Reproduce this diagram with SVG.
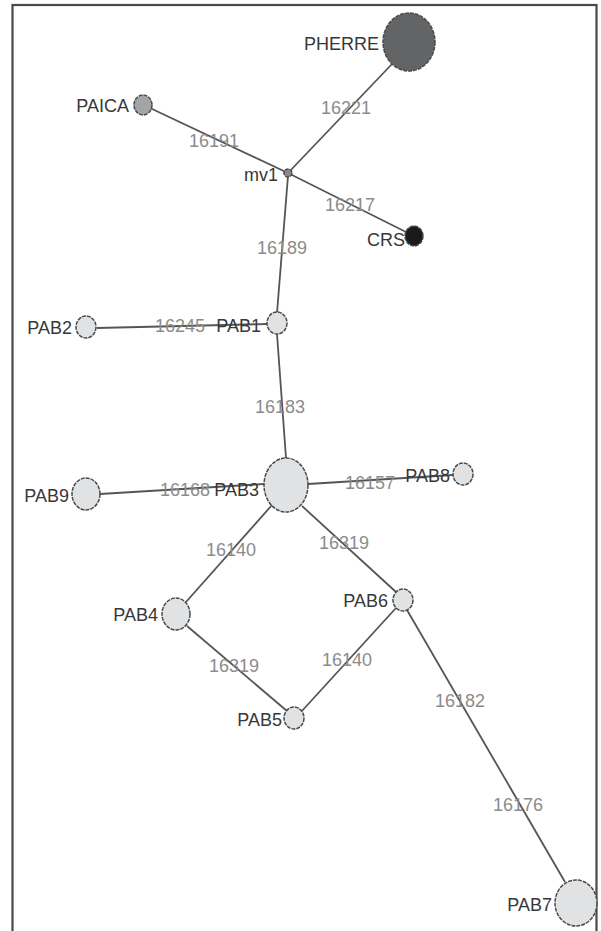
<svg xmlns="http://www.w3.org/2000/svg" width="601" height="931" viewBox="0 0 601 931">
  <style>
    .frame { fill: none; stroke: #4a4a4a; stroke-width: 2.2; }
    .edge { stroke: #555; stroke-width: 1.8; fill: none; }
    .node { stroke: #4a4a4a; stroke-width: 1.5; stroke-dasharray: 4 1; }
    .light { fill: #e1e2e4; }
    .nlabel { font-family: "Liberation Sans", Arial, sans-serif; font-size: 18px; fill: #383838; text-anchor: end; }
    .elabel { font-family: "Liberation Sans", Arial, sans-serif; font-size: 18px; fill: #8c8c8c; text-anchor: middle; }
  </style>
  <rect width="601" height="931" fill="#ffffff"/>
  <rect class="frame" x="12.5" y="5" width="584" height="950"/>

  <!-- connectors -->
  <g id="edges">
    <line class="edge" x1="288" y1="173" x2="392" y2="64"/>
    <line class="edge" x1="150" y1="108" x2="288" y2="173"/>
    <line class="edge" x1="288" y1="173" x2="406" y2="232"/>
    <line class="edge" x1="288" y1="176" x2="277" y2="313"/>
    <line class="edge" x1="97" y1="328" x2="267" y2="324"/>
    <line class="edge" x1="277" y1="334" x2="286" y2="458"/>
    <line class="edge" x1="100" y1="494" x2="264" y2="484"/>
    <line class="edge" x1="308" y1="484" x2="453" y2="475"/>
    <line class="edge" x1="272" y1="505" x2="186" y2="602"/>
    <line class="edge" x1="302" y1="506" x2="396" y2="592"/>
    <line class="edge" x1="187" y1="626" x2="287" y2="711"/>
    <line class="edge" x1="396" y1="608" x2="301" y2="712"/>
    <line class="edge" x1="407" y1="610" x2="565" y2="882"/>
  </g>

  <!-- edge labels -->
  <g id="edge-labels">
    <text class="elabel" x="346" y="114">16221</text>
    <text class="elabel" x="214" y="147">16191</text>
    <text class="elabel" x="350" y="211">16217</text>
    <text class="elabel" x="282" y="254">16189</text>
    <text class="elabel" x="180" y="332">16245</text>
    <text class="elabel" x="280" y="413">16183</text>
    <text class="elabel" x="185" y="496">16168</text>
    <text class="elabel" x="370" y="489">16157</text>
    <text class="elabel" x="231" y="556">16140</text>
    <text class="elabel" x="344" y="549">16319</text>
    <text class="elabel" x="234" y="672">16319</text>
    <text class="elabel" x="347" y="666">16140</text>
    <text class="elabel" x="460" y="707">16182</text>
    <text class="elabel" x="518" y="811">16176</text>
  </g>

  <g id="PHERRE">
    <ellipse class="node" cx="409" cy="42" rx="26" ry="29" fill="#636466"/>
    <text class="nlabel" x="379" y="50">PHERRE</text>
  </g>
  <g id="PAICA">
    <ellipse class="node" cx="143" cy="105" rx="9" ry="10" fill="#a2a4a6"/>
    <text class="nlabel" x="129" y="112">PAICA</text>
  </g>
  <g id="mv1">
    <circle class="node" cx="288" cy="173" r="4" fill="#8a8a8a" stroke-dasharray="none"/>
    <text class="nlabel" x="278" y="181">mv1</text>
  </g>
  <g id="CRS">
    <ellipse class="node" cx="414" cy="236" rx="9" ry="10" fill="#1a1a1a"/>
    <text class="nlabel" x="405" y="246">CRS</text>
  </g>
  <g id="PAB1">
    <ellipse class="node light" cx="277" cy="323" rx="10" ry="11"/>
    <text class="nlabel" x="261" y="332">PAB1</text>
  </g>
  <g id="PAB2">
    <ellipse class="node light" cx="86" cy="327" rx="10" ry="11"/>
    <text class="nlabel" x="72" y="334">PAB2</text>
  </g>
  <g id="PAB3">
    <ellipse class="node light" cx="286" cy="485" rx="22" ry="27"/>
    <text class="nlabel" x="259" y="496">PAB3</text>
  </g>
  <g id="PAB9">
    <ellipse class="node light" cx="86" cy="494" rx="14" ry="16"/>
    <text class="nlabel" x="69" y="502">PAB9</text>
  </g>
  <g id="PAB8">
    <ellipse class="node light" cx="463" cy="474" rx="10" ry="11"/>
    <text class="nlabel" x="450" y="482">PAB8</text>
  </g>
  <g id="PAB4">
    <ellipse class="node light" cx="176" cy="614" rx="14" ry="16"/>
    <text class="nlabel" x="158" y="621">PAB4</text>
  </g>
  <g id="PAB6">
    <ellipse class="node light" cx="403" cy="600" rx="10" ry="11"/>
    <text class="nlabel" x="388" y="607">PAB6</text>
  </g>
  <g id="PAB5">
    <ellipse class="node light" cx="294" cy="718" rx="10" ry="11"/>
    <text class="nlabel" x="282" y="726">PAB5</text>
  </g>
  <g id="PAB7">
    <ellipse class="node light" cx="576" cy="903" rx="21" ry="23"/>
    <text class="nlabel" x="552" y="911">PAB7</text>
  </g>
</svg>
